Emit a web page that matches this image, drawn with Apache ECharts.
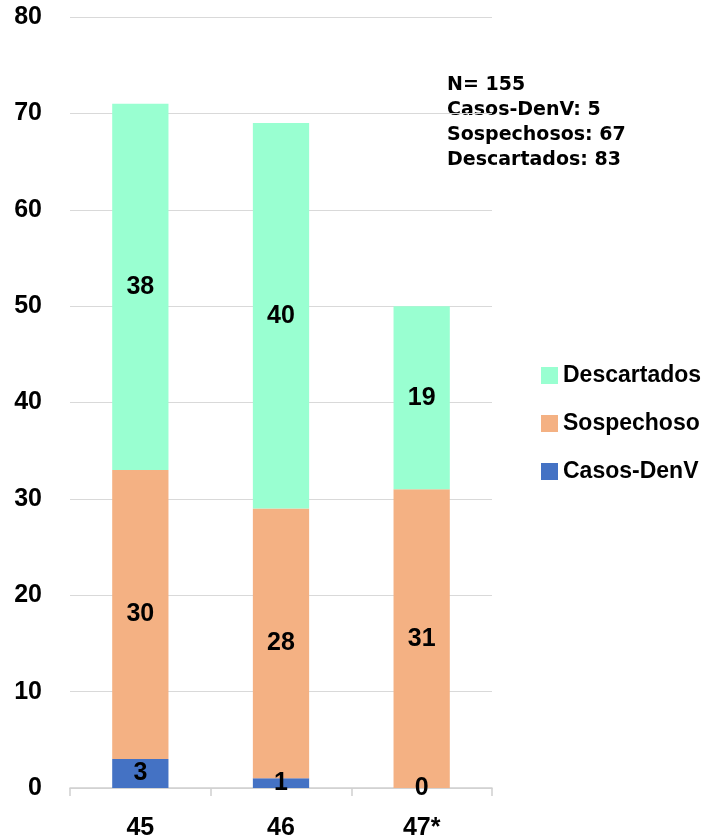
<!DOCTYPE html>
<html>
<head>
<meta charset="utf-8">
<script src="https://cdn.jsdelivr.net/npm/echarts@6/dist/echarts.min.js"></script>
<style>
  html, body { margin: 0; padding: 0; background: #fff; }
  #chart { width: 713px; height: 838px; }
</style>
</head>
<body>
<div id="chart"></div>
<script>
// semanas epidemiologicas
const semanas = ['45', '46', '47*'];
const casosDenV = [3, 1, 0];
const sospechoso = [30, 28, 31];
const descartados = [38, 40, 19];
const resumen = ['N= 155', 'Casos-DenV: 5', 'Sospechosos: 67', 'Descartados: 83'];

const myChart = echarts.init(document.getElementById('chart'));

const fuente = 'Liberation Sans';

const labelStyle = {
    show: true,
    position: 'inside',
    color: '#000',
    fontWeight: 'bold',
    fontSize: 25,
    fontFamily: fuente
};

const option = {
    animation: false,
    grid: { left: 70, right: 221, top: 17, bottom: 50, outerBoundsMode: 'none' },
    legend: {
        data: ['Descartados', 'Sospechoso', 'Casos-DenV'],
        orient: 'vertical',
        left: 536,
        top: 359,
        itemWidth: 17,
        itemHeight: 17,
        itemGap: 25,
        icon: 'rect',
        textStyle: { color: '#000', fontWeight: 'bold', fontSize: 23, fontFamily: fuente }
    },
    xAxis: {
        type: 'category',
        data: semanas,
        axisLine: { lineStyle: { color: '#d0d0d0', width: 1.5 } },
        axisTick: { show: true, length: 8, lineStyle: { color: '#d0d0d0', width: 1.5 } },
        axisLabel: { color: '#000', fontWeight: 'bold', fontSize: 25, fontFamily: fuente, margin: 28 }
    },
    yAxis: {
        type: 'value',
        min: 0,
        max: 80,
        interval: 10,
        axisLabel: { color: '#000', fontWeight: 'bold', fontSize: 25, fontFamily: fuente, margin: 28 },
        splitLine: { lineStyle: { color: '#d9d9d9', width: 1 } }
    },
    series: [
        {
            name: 'Casos-DenV', type: 'bar', stack: 'total', barWidth: '40%',
            data: casosDenV, itemStyle: { color: '#4472C4' }, label: labelStyle
        },
        {
            name: 'Sospechoso', type: 'bar', stack: 'total',
            data: sospechoso, itemStyle: { color: '#F4B183' }, label: labelStyle
        },
        {
            name: 'Descartados', type: 'bar', stack: 'total',
            data: descartados, itemStyle: { color: '#99FFD1' }, label: labelStyle
        }
    ],
    graphic: [
        {
            type: 'text',
            left: 447,
            top: 73,
            style: {
                text: resumen.join('\n'),
                fill: '#000',
                font: 'bold 19px "DejaVu Sans"',
                lineHeight: 25
            }
        }
    ]
};

myChart.setOption(option);
</script>
</body>
</html>
